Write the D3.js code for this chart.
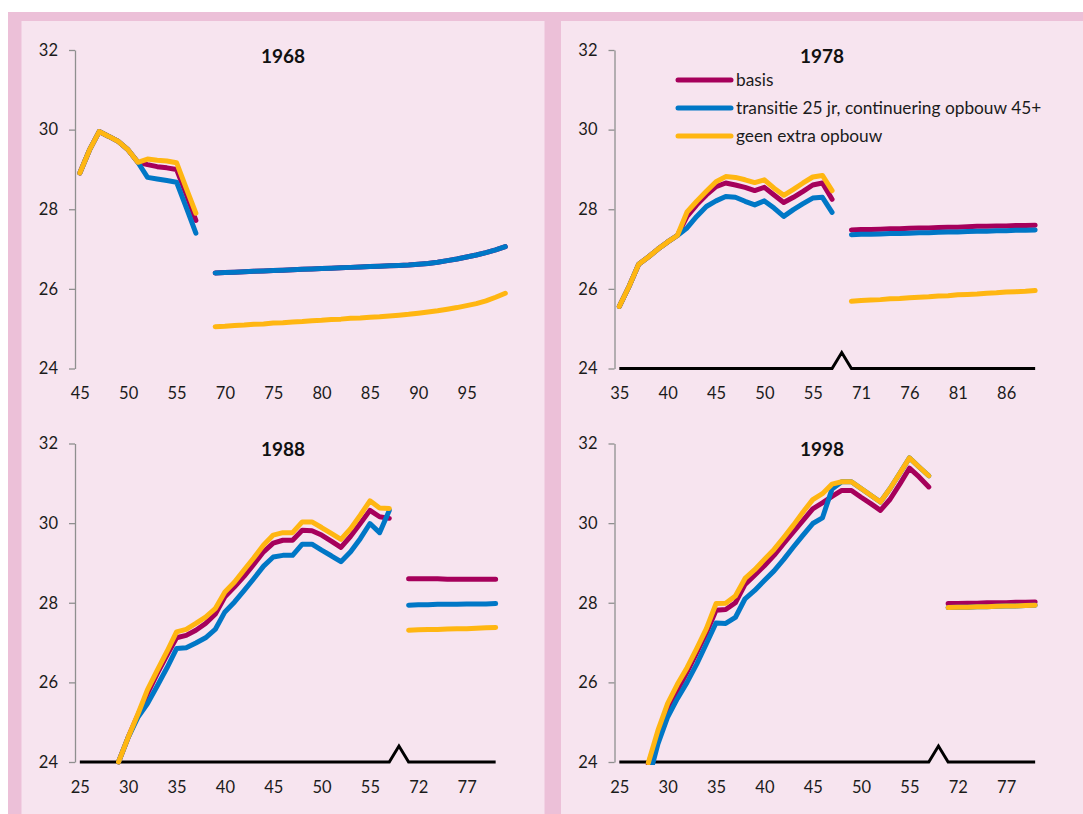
<!DOCTYPE html>
<html>
<head>
<meta charset="utf-8">
<script src="https://cdn.jsdelivr.net/npm/d3@7"></script>
<style>
  body { margin: 0; background: #fff; }
  svg { display: block; }
  text { font-family: Lato, "Open Sans", sans-serif; }
</style>
</head>
<body>
<script>
// ---- data ----
// "" is the empty category where the break in the x axis sits

const cats1968 = [45, 46, 47, 48, 49, 50, 51, 52, 53, 54, 55, 56, 57, "",
  69, 70, 71, 72, 73, 74, 75, 76, 77, 78, 79, 80, 81, 82, 83, 84, 85, 86, 87, 88, 89, 90,
  91, 92, 93, 94, 95, 96, 97, 98, 99];
const ticks1968 = [45, 50, 55, 70, 75, 80, 85, 90, 95];
const basis1968 = [28.91, 29.49, 29.95, 29.83, 29.70, 29.49, 29.18, 29.12, 29.07, 29.04, 29.00, 28.38, 27.72, null,
  26.40, 26.41, 26.42, 26.43, 26.44, 26.45, 26.46, 26.47, 26.48, 26.49, 26.50, 26.51, 26.52, 26.53, 26.54, 26.55,
  26.56, 26.57, 26.58, 26.59, 26.60, 26.62, 26.64, 26.67, 26.71, 26.75, 26.80, 26.85, 26.91, 26.98, 27.06];
const trans1968 = [28.91, 29.49, 29.95, 29.83, 29.70, 29.49, 29.18, 28.80, 28.76, 28.72, 28.68, 28.05, 27.40, null,
  26.40, 26.41, 26.42, 26.43, 26.44, 26.45, 26.46, 26.47, 26.48, 26.49, 26.50, 26.51, 26.52, 26.53, 26.54, 26.55,
  26.56, 26.57, 26.58, 26.59, 26.60, 26.62, 26.64, 26.67, 26.71, 26.75, 26.80, 26.85, 26.91, 26.98, 27.06];
const geen1968 = [28.91, 29.49, 29.95, 29.83, 29.70, 29.49, 29.18, 29.26, 29.23, 29.21, 29.17, 28.53, 27.90, null,
  25.05, 25.06, 25.08, 25.09, 25.11, 25.12, 25.14, 25.15, 25.17, 25.18, 25.20, 25.21, 25.23, 25.24, 25.26, 25.27,
  25.29, 25.30, 25.32, 25.34, 25.36, 25.39, 25.42, 25.45, 25.49, 25.53, 25.58, 25.63, 25.70, 25.79, 25.89];

const cats1978 = [35, 36, 37, 38, 39, 40, 41, 42, 43, 44, 45, 46, 47, 48, 49, 50, 51, 52, 53, 54, 55, 56, 57, "",
  70, 71, 72, 73, 74, 75, 76, 77, 78, 79, 80, 81, 82, 83, 84, 85, 86, 87, 88, 89];
const ticks1978 = [35, 40, 45, 50, 55, 71, 76, 81, 86];
const basis1978 = [25.56, 26.06, 26.62, 26.80, 27.00, 27.18, 27.34,
  27.82, 28.11, 28.36, 28.57, 28.66, 28.61, 28.55, 28.47, 28.55, 28.36, 28.17, 28.30, 28.45, 28.61, 28.66, 28.25, null,
  27.48, 27.49, 27.49, 27.50, 27.51, 27.51, 27.52, 27.53, 27.53, 27.54, 27.55, 27.55, 27.56, 27.57, 27.57, 27.58,
  27.58, 27.59, 27.59, 27.60];
const trans1978 = [25.56, 26.06, 26.62, 26.80, 27.00, 27.18, 27.34,
  27.53, 27.82, 28.07, 28.21, 28.32, 28.30, 28.20, 28.11, 28.21, 28.03, 27.82, 27.99, 28.14, 28.28, 28.30, 27.92, null,
  27.36, 27.37, 27.37, 27.38, 27.39, 27.39, 27.40, 27.41, 27.41, 27.42, 27.43, 27.43, 27.44, 27.45, 27.45, 27.46,
  27.46, 27.47, 27.47, 27.48];
const geen1978 = [25.56, 26.06, 26.62, 26.80, 27.00, 27.18, 27.34,
  27.93, 28.20, 28.45, 28.69, 28.82, 28.80, 28.74, 28.67, 28.74, 28.53, 28.35, 28.50, 28.66, 28.81, 28.85, 28.47, null,
  25.69, 25.71, 25.72, 25.73, 25.75, 25.76, 25.78, 25.79, 25.80, 25.82, 25.83, 25.85, 25.86, 25.87, 25.89, 25.90,
  25.92, 25.93, 25.94, 25.96];

const cats1988 = [25, 26, 27, 28, 29, 30, 31, 32, 33, 34, 35, 36, 37, 38, 39, 40, 41, 42, 43, 44, 45, 46, 47, 48,
  49, 50, 51, 52, 53, 54, 55, 56, 57, "", 71, 72, 73, 74, 75, 76, 77, 78, 79, 80];
const ticks1988 = [25, 30, 35, 40, 45, 50, 55, 72, 77];
const basis1988 = [null, null, null, null,
  24.00, 24.62, 25.18, 25.72, 26.22, 26.68, 27.12, 27.18, 27.31, 27.48, 27.71, 28.15, 28.40, 28.67, 28.97, 29.28,
  29.50, 29.57, 29.57, 29.82, 29.81, 29.70, 29.55, 29.39, 29.67, 29.99, 30.32, 30.16, 30.12, null,
  28.60, 28.60, 28.60, 28.60, 28.59, 28.59, 28.59, 28.59, 28.59, 28.59];
const trans1988 = [null, null, null, null,
  24.00, 24.62, 25.12, 25.47, 25.91, 26.36, 26.85, 26.87, 26.99, 27.12, 27.33, 27.77, 28.02, 28.31, 28.61, 28.92,
  29.15, 29.19, 29.19, 29.47, 29.47, 29.32, 29.18, 29.03, 29.28, 29.61, 29.99, 29.76, 30.32, null,
  27.94, 27.95, 27.95, 27.96, 27.96, 27.96, 27.97, 27.97, 27.97, 27.98];
const geen1988 = [null, null, null, null,
  24.00, 24.62, 25.20, 25.82, 26.30, 26.77, 27.27, 27.33, 27.48, 27.64, 27.85, 28.27, 28.52, 28.83, 29.13, 29.45,
  29.70, 29.76, 29.76, 30.03, 30.03, 29.89, 29.74, 29.59, 29.86, 30.20, 30.56, 30.38, 30.37, null,
  27.31, 27.32, 27.33, 27.33, 27.34, 27.35, 27.35, 27.36, 27.37, 27.38];

const cats1998 = cats1988;
const ticks1998 = ticks1988;
const basis1998 = [null, null, null,
  23.95, 24.67, 25.34, 25.80, 26.26, 26.75, 27.24, 27.81, 27.83, 28.00, 28.46, 28.69, 28.93, 29.19, 29.49, 29.78,
  30.07, 30.36, 30.51, 30.67, 30.82, 30.82, 30.65, 30.49, 30.32, 30.60, 30.98, 31.38, 31.16, 30.91, null,
  27.98, 27.98, 27.99, 27.99, 28.00, 28.00, 28.00, 28.01, 28.01, 28.02];
const trans1998 = [null, null, null,
  23.55, 24.46, 25.13, 25.59, 26.00, 26.46, 26.97, 27.49, 27.48, 27.63, 28.10, 28.31, 28.56, 28.80, 29.09, 29.40,
  29.70, 29.99, 30.13, 30.86, 31.04, 31.04, 30.87, 30.70, 30.53, 30.87, 31.25, 31.64, 31.41, 31.19, null,
  27.88, 27.89, 27.89, 27.90, 27.90, 27.91, 27.92, 27.92, 27.93, 27.94];
const geen1998 = [null, null, null,
  23.98, 24.80, 25.47, 25.95, 26.37, 26.85, 27.35, 27.98, 27.99, 28.17, 28.61, 28.83, 29.09, 29.34, 29.64, 29.95,
  30.28, 30.59, 30.74, 30.98, 31.04, 31.04, 30.87, 30.70, 30.53, 30.87, 31.25, 31.64, 31.41, 31.19, null,
  27.88, 27.89, 27.89, 27.90, 27.90, 27.91, 27.92, 27.92, 27.93, 27.94];

const yTicks = [24, 26, 28, 30, 32];
const seriesNames = ["basis", "transitie 25 jr, continuering opbouw 45+", "geen extra opbouw"];
const BREAK_VALUE = 24.4; // the little peak in the base line

// ---- layout ----
const WIDTH = 1083, HEIGHT = 814;
const colors = ["#A6005B", "#0077C6", "#FFB612"];
const PINK = "#ECC0D8", PANEL = "#F7E4EF";
const COL_X = [21.5, 561];
const COL_W = [523, 522];
const ROW_TOP = [50, 443.5];   // y of 32
const PLOT_H = 318.5;
const STEP = 9.67;
const LINE_W = 5;

const panels = [
  {title: "1968", cats: cats1968, ticks: ticks1968, vals: [basis1968, trans1968, geen1968], col: 0, row: 0, base: false, legend: false},
  {title: "1978", cats: cats1978, ticks: ticks1978, vals: [basis1978, trans1978, geen1978], col: 1, row: 0, base: true, legend: true},
  {title: "1988", cats: cats1988, ticks: ticks1988, vals: [basis1988, trans1988, geen1988], col: 0, row: 1, base: true, legend: false},
  {title: "1998", cats: cats1998, ticks: ticks1998, vals: [basis1998, trans1998, geen1998], col: 1, row: 1, base: true, legend: false}
];

const svg = d3.select("body").append("svg")
  .attr("width", WIDTH)
  .attr("height", HEIGHT);

svg.append("rect").attr("width", WIDTH).attr("height", HEIGHT).attr("fill", "#fff");
svg.append("rect").attr("x", 8).attr("y", 12).attr("width", WIDTH - 8).attr("height", HEIGHT - 12).attr("fill", PINK);
svg.selectAll(".col")
  .data(COL_X)
  .join("rect")
  .attr("class", "col")
  .attr("x", d => d)
  .attr("y", 21)
  .attr("width", (d, i) => COL_W[i])
  .attr("height", HEIGHT - 21)
  .attr("fill", PANEL);

panels.forEach((p, pi) => {
  const left = COL_X[p.col];
  const axisX = left + 53.5;
  const yTop = ROW_TOP[p.row];

  const y = d3.scaleLinear().domain([24, 32]).range([yTop + PLOT_H, yTop]);
  const x = d3.scalePoint()
    .domain(p.cats)
    .range([axisX, axisX + p.cats.length * STEP])
    .padding(0.5);

  const g = svg.append("g");

  // y axis
  const yAxis = d3.axisLeft(y)
    .tickValues(yTicks)
    .tickSize(6)
    .tickSizeOuter(0)
    .tickPadding(11);
  const yg = g.append("g")
    .attr("transform", `translate(${axisX},0)`)
    .call(yAxis);
  yg.selectAll("path, line").attr("stroke", "#8f8f8f").attr("stroke-width", 1.3);
  yg.selectAll("text").attr("font-size", 16.5).attr("fill", "#1b1b1b");

  // x axis (labels only)
  const xAxis = d3.axisBottom(x)
    .tickValues(p.ticks)
    .tickSize(0)
    .tickPadding(19);
  const xg = g.append("g")
    .attr("transform", `translate(0,${y(24)})`)
    .call(xAxis);
  xg.select(".domain").remove();
  xg.selectAll("text").attr("font-size", 16.5).attr("fill", "#1b1b1b");

  // title
  g.append("text")
    .attr("x", left + COL_W[p.col] / 2)
    .attr("y", yTop + 6)
    .attr("dy", "0.36em")
    .attr("text-anchor", "middle")
    .attr("font-size", 19)
    .attr("font-weight", "bold")
    .attr("fill", "#111")
    .text(p.title);

  const line = d3.line()
    .defined(d => d.v != null)
    .x(d => x(d.c))
    .y(d => y(d.v));

  // base line with the break marker
  if (p.base) {
    const basePts = p.cats.map(c => ({c: c, v: c === "" ? BREAK_VALUE : 24}));
    g.append("path")
      .attr("d", line(basePts))
      .attr("fill", "none")
      .attr("stroke", "#000")
      .attr("stroke-width", 3);
  }

  // clip lines to the plot area
  const clipId = "clip" + pi;
  svg.append("clipPath").attr("id", clipId)
    .append("rect")
    .attr("x", axisX)
    .attr("y", yTop - 10)
    .attr("width", p.cats.length * STEP + 10)
    .attr("height", PLOT_H + 13);

  g.append("g")
    .attr("clip-path", `url(#${clipId})`)
    .selectAll(".serie")
    .data(p.vals.map((vals, i) => ({i: i, pts: p.cats.map((c, j) => ({c: c, v: vals[j]}))})))
    .join("path")
    .attr("class", "serie")
    .attr("d", d => line(d.pts))
    .attr("fill", "none")
    .attr("stroke", d => colors[d.i])
    .attr("stroke-width", LINE_W)
    .attr("stroke-linejoin", "round")
    .attr("stroke-linecap", "round");

  // legend
  if (p.legend) {
    const lg = g.append("g").attr("transform", `translate(${left + 117},80)`);
    const item = lg.selectAll(".item")
      .data(seriesNames)
      .join("g")
      .attr("class", "item")
      .attr("transform", (d, i) => `translate(0,${i * 28})`);
    item.append("line")
      .attr("x1", 0).attr("x2", 53)
      .attr("stroke", (d, i) => colors[i])
      .attr("stroke-width", LINE_W)
      .attr("stroke-linecap", "round");
    item.append("text")
      .attr("x", 58)
      .attr("dy", "0.35em")
      .attr("font-size", 17.3)
      .attr("fill", "#1b1b1b")
      .text(d => d);
  }
});
</script>
</body>
</html>
